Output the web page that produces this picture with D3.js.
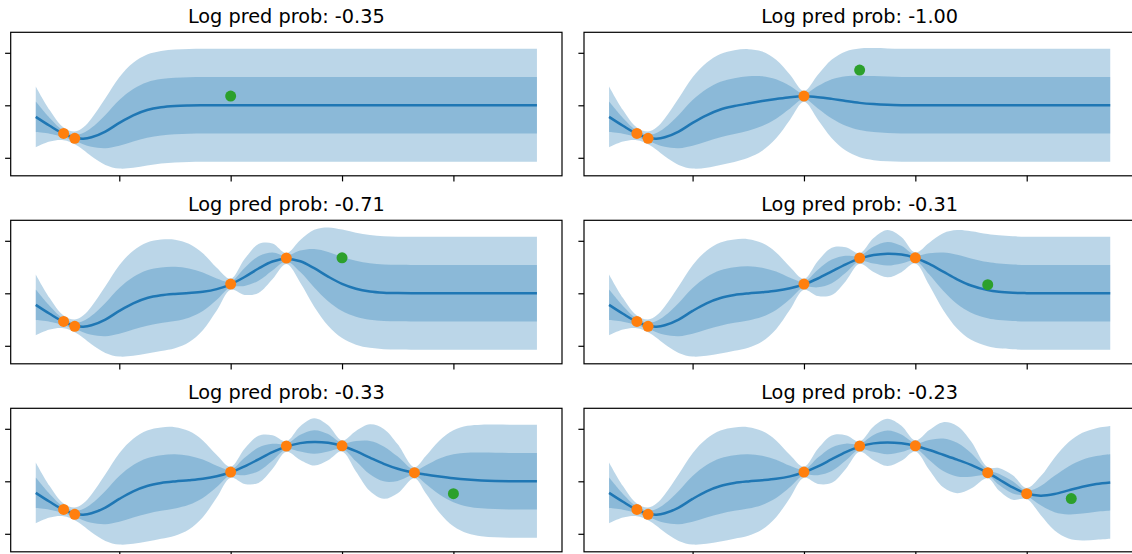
<!DOCTYPE html>
<html>
<head>
<meta charset="utf-8">
<script src="https://cdn.jsdelivr.net/npm/d3@7"></script>
<style>
  html, body { margin: 0; padding: 0; background: #ffffff; }
  svg { display: block; }
</style>
</head>
<body>
<svg id="chart" width="1132" height="554"></svg>
<script>
// Sample grid shared by every panel (input locations of the posterior curves)
const gridX = [-1.5, -1.25, -1.0, -0.8, -0.65, -0.5, -0.25, 0, 0.25, 0.5, 0.75, 1.0, 1.25, 1.5, 1.75,
  2.0, 2.25, 2.5, 2.75, 3.0, 3.25, 3.5, 3.75, 4.0, 4.25, 4.5, 4.75, 5.0, 5.3, 5.5, 5.75,
  6.0, 6.25, 6.5, 6.75, 7.0, 7.25, 7.5];

// Observations, added one at a time from panel to panel
const obsX = [-1.0, -0.8, 2.0, 3.0, 4.0, 5.3, 6.0, 6.8];
const obsY = [-1.07, -1.26, 0.35, 1.34, 1.35, 0.33, -0.47, -0.66];

// Log predictive probability of the held-out point in each panel
const logPredProb = ["-0.35", "-1.00", "-0.71", "-0.31", "-0.33", "-0.23"];

// Posterior mean per panel
const mean1 = [-0.44, -0.78, -1.09, -1.24, -1.27, -1.22, -1.0, -0.67, -0.38, -0.18, -0.075, -0.026, -0.008, -0.002, 0,
  0, 0, 0, 0, 0, 0, 0, 0, 0, 0, 0, 0, 0, 0, 0, 0, 0, 0, 0, 0, 0, 0, 0];
const mean2 = [-0.44, -0.78, -1.09, -1.24, -1.27, -1.22, -1.0, -0.67, -0.38, -0.16, -0.03, 0.07, 0.16, 0.24, 0.31,
  0.34, 0.31, 0.245, 0.164, 0.092, 0.045, 0.018, 0.006, 0.002, 0, 0, 0, 0, 0, 0, 0, 0, 0, 0, 0, 0, 0, 0];
const mean3 = [-0.44, -0.78, -1.09, -1.24, -1.27, -1.22, -1.0, -0.67, -0.38, -0.18, -0.075, -0.023, 0.009, 0.057, 0.158,
  0.343, 0.62, 0.944, 1.213, 1.32, 1.219, 0.956, 0.637, 0.36, 0.174, 0.071, 0.025, 0.007, 0.001, 0, 0,
  0, 0, 0, 0, 0, 0, 0];
const mean4 = [-0.44, -0.78, -1.09, -1.24, -1.27, -1.22, -1.0, -0.67, -0.38, -0.177, -0.066, -0.004, 0.04, 0.096, 0.19,
  0.342, 0.564, 0.834, 1.106, 1.323, 1.458, 1.508, 1.474, 1.345, 1.118, 0.826, 0.533, 0.296, 0.12, 0.057, 0.02,
  0.006, 0, 0, 0, 0, 0, 0];
const mean5 = [-0.44, -0.78, -1.09, -1.24, -1.27, -1.22, -1.0, -0.67, -0.38, -0.177, -0.066, -0.004, 0.04, 0.096, 0.19,
  0.343, 0.566, 0.837, 1.108, 1.323, 1.454, 1.499, 1.465, 1.346, 1.147, 0.90, 0.664, 0.477, 0.327, 0.256, 0.182,
  0.117, 0.067, 0.033, 0.014, 0.005, 0.001, 0];
const mean6 = [-0.44, -0.78, -1.09, -1.24, -1.27, -1.22, -1.0, -0.67, -0.38, -0.177, -0.066, -0.005, 0.038, 0.094, 0.188,
  0.343, 0.568, 0.842, 1.113, 1.323, 1.445, 1.481, 1.446, 1.346, 1.193, 1.011, 0.826, 0.626, 0.324, 0.078, -0.235,
  -0.464, -0.546, -0.485, -0.347, -0.205, -0.101, -0.042];

// Posterior standard deviation per panel
const sd1 = [0.58, 0.30, 0.12, 0.12, 0.21, 0.36, 0.635, 0.87, 1.0, 1.057, 1.073, 1.076, 1.076, 1.076, 1.076,
  1.076, 1.076, 1.076, 1.076, 1.076, 1.076, 1.076, 1.076, 1.076, 1.076, 1.076, 1.076, 1.076, 1.076, 1.076, 1.076,
  1.076, 1.076, 1.076, 1.076, 1.076, 1.076, 1.076];
const sd2 = [0.58, 0.30, 0.12, 0.12, 0.21, 0.36, 0.635, 0.87, 1.0, 1.056, 1.063, 1.035, 0.945, 0.749, 0.428,
  0.104, 0.428, 0.749, 0.945, 1.036, 1.067, 1.075, 1.076, 1.076, 1.076, 1.076, 1.076, 1.076, 1.076, 1.076, 1.076,
  1.076, 1.076, 1.076, 1.076, 1.076, 1.076, 1.076];
const sd3 = [0.58, 0.30, 0.12, 0.12, 0.21, 0.36, 0.635, 0.87, 1.0, 1.056, 1.06, 1.033, 0.937, 0.732, 0.407,
  0.104, 0.341, 0.465, 0.341, 0.104, 0.407, 0.732, 0.937, 1.033, 1.066, 1.075, 1.076, 1.076, 1.076, 1.076, 1.076,
  1.076, 1.076, 1.076, 1.076, 1.076, 1.076, 1.076];
const sd4 = [0.58, 0.30, 0.12, 0.12, 0.21, 0.36, 0.635, 0.87, 1.0, 1.056, 1.06, 1.033, 0.937, 0.731, 0.406,
  0.104, 0.335, 0.45, 0.322, 0.10, 0.322, 0.45, 0.335, 0.104, 0.406, 0.731, 0.937, 1.033, 1.068, 1.075, 1.076,
  1.076, 1.076, 1.076, 1.076, 1.076, 1.076, 1.076];
const sd5 = [0.58, 0.30, 0.12, 0.12, 0.21, 0.36, 0.635, 0.87, 1.0, 1.056, 1.06, 1.033, 0.937, 0.731, 0.406,
  0.104, 0.335, 0.45, 0.322, 0.10, 0.322, 0.45, 0.333, 0.104, 0.385, 0.635, 0.666, 0.465, 0.104, 0.349, 0.688,
  0.913, 1.023, 1.063, 1.074, 1.076, 1.076, 1.076];
const sd6 = [0.58, 0.30, 0.12, 0.12, 0.21, 0.36, 0.635, 0.87, 1.0, 1.056, 1.06, 1.033, 0.937, 0.731, 0.406,
  0.104, 0.335, 0.45, 0.322, 0.10, 0.322, 0.45, 0.333, 0.104, 0.38, 0.62, 0.64, 0.45, 0.104, 0.213, 0.233,
  0.104, 0.367, 0.693, 0.915, 1.025, 1.063, 1.074];

// Axis ticks (labels are blank)
const xTickValues = [0, 2, 4, 6];
const yTickValues = [-2, 0, 2];

const means = [mean1, mean2, mean3, mean4, mean5, mean6];
const sds = [sd1, sd2, sd3, sd4, sd5, sd6];

// Layout of the 3 x 2 grid of axes
const axW = 551.3, axH = 143.5;
const colLeft = [10.7, 584.0];
const rowTop = [32.3, 220.3, 408.3];

const blue = "#1f77b4", orange = "#ff7f0e", green = "#2ca02c";

const x = d3.scaleLinear().domain([-1.95, 7.95]).range([0, axW]);
const y = d3.scaleLinear().domain([-2.686, 2.781]).range([axH, 0]);

const svg = d3.select("#chart");

function band(k) {
  return d3.area()
    .x(d => x(d.x))
    .y0(d => y(d.m - k * d.s))
    .y1(d => y(d.m + k * d.s))
    .curve(d3.curveCatmullRom);
}
const meanLine = d3.line().x(d => x(d.x)).y(d => y(d.m)).curve(d3.curveCatmullRom);

means.forEach((m, i) => {
  const row = Math.floor(i / 2), col = i % 2;
  const g = svg.append("g")
    .attr("transform", `translate(${colLeft[col]},${rowTop[row]})`);

  const rows = gridX.map((gx, j) => ({ x: gx, m: m[j], s: sds[i][j] }));

  // two-sigma and one-sigma bands
  g.append("path").datum(rows).attr("d", band(2))
    .attr("fill", blue).attr("fill-opacity", 0.3);
  g.append("path").datum(rows).attr("d", band(1))
    .attr("fill", blue).attr("fill-opacity", 0.3);

  // posterior mean
  g.append("path").datum(rows).attr("d", meanLine)
    .attr("fill", "none").attr("stroke", blue).attr("stroke-width", 2.5);

  // observed points so far
  const nObs = i + 2;
  g.selectAll("circle.obs")
    .data(d3.range(nObs))
    .join("circle")
    .attr("class", "obs")
    .attr("cx", k => x(obsX[k]))
    .attr("cy", k => y(obsY[k]))
    .attr("r", 5.5)
    .attr("fill", orange);

  // held-out point
  g.append("circle")
    .attr("cx", x(obsX[nObs]))
    .attr("cy", y(obsY[nObs]))
    .attr("r", 5.5)
    .attr("fill", green);

  // ticks
  const xAxis = d3.axisBottom(x).tickValues(xTickValues).tickFormat("").tickSize(5.6).tickSizeOuter(0);
  const yAxis = d3.axisLeft(y).tickValues(yTickValues).tickFormat("").tickSize(5.6).tickSizeOuter(0);
  const gx = g.append("g").attr("transform", `translate(0,${axH})`).call(xAxis);
  const gy = g.append("g").call(yAxis);
  [gx, gy].forEach(a => {
    a.select(".domain").remove();
    a.selectAll(".tick line").attr("stroke", "#000").attr("stroke-width", 1.2);
  });

  // frame
  g.append("rect")
    .attr("x", 0).attr("y", 0).attr("width", axW).attr("height", axH)
    .attr("fill", "none").attr("stroke", "#000").attr("stroke-width", 1.2);

  // title
  g.append("text")
    .attr("x", axW / 2).attr("y", -9.7)
    .attr("text-anchor", "middle")
    .attr("font-family", "DejaVu Sans")
    .attr("font-size", "19.3px")
    .attr("fill", "#000")
    .text(`Log pred prob: ${logPredProb[i]}`);
});
</script>
</body>
</html>
